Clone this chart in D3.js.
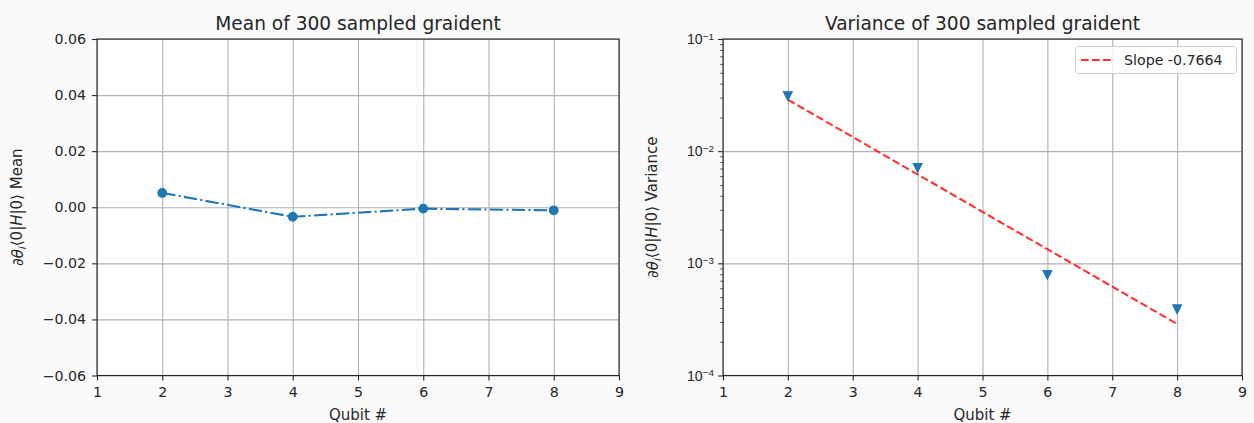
<!DOCTYPE html>
<html>
<head>
<meta charset="utf-8">
<script src="https://cdn.jsdelivr.net/npm/d3@7"></script>
<style>
  body { margin: 0; background: #fafafa; }
  svg { display: block; font-family: "DejaVu Sans", sans-serif; }
</style>
</head>
<body>
<svg id="chart" width="1254" height="423"></svg>
<script>
// data
var qubits = [2, 4, 6, 8];
var meanValues = [0.0051, -0.0034, -0.0005, -0.0011];
var varianceValues = [0.031, 0.0071, 0.00079, 0.00039];
var fitQubits = [2, 8];
var fitValues = [0.0288, 0.000288];
var slopeLabel = "Slope -0.7664";
var xTicks = [1, 2, 3, 4, 5, 6, 7, 8, 9];
var meanTicks = [-0.06, -0.04, -0.02, 0.00, 0.02, 0.04, 0.06];
var logTicks = [1e-4, 1e-3, 1e-2, 1e-1];
var titles = ["Mean of 300 sampled graident", "Variance of 300 sampled graident"];

var svg = d3.select("#chart"),
    blue = "#1f77b4",
    textColor = "#262626",
    tickFont = 14.2,
    labelFont = 15;

var panels = [
  { left: 97, right: 619, top: 39, bottom: 375.5, labelX: 18, name: "Mean" },
  { left: 723, right: 1242, top: 39, bottom: 375.5, labelX: 653, name: "Variance" }
];

function styleAxis(g) {
  g.select(".domain").remove();
  g.selectAll(".tick line").attr("stroke", textColor).attr("stroke-width", 1.1);
  g.selectAll(".tick text").attr("fill", textColor).style("font-size", tickFont + "px")
   .style("font-family", "DejaVu Sans, sans-serif");
}

panels.forEach(function(p, i) {
  var w = p.right - p.left, h = p.bottom - p.top;
  var x = d3.scaleLinear().domain([1, 9]).range([p.left, p.right]);
  var y = i === 0
    ? d3.scaleLinear().domain([-0.06, 0.06]).range([p.bottom, p.top])
    : d3.scaleLog().domain([1e-4, 1e-1]).range([p.bottom, p.top]);

  //axes background
  svg.append("rect").attr("x", p.left).attr("y", p.top).attr("width", w).attr("height", h)
    .attr("fill", "#ffffff");

  //grid
  svg.append("g").attr("transform", "translate(0," + p.bottom + ")")
    .call(d3.axisBottom(x).tickValues(xTicks).tickSize(-h).tickFormat(""))
    .call(function(g) {
      g.select(".domain").remove();
      g.selectAll("line").attr("stroke", "#b0b0b0").attr("stroke-width", 1.1);
    });
  svg.append("g").attr("transform", "translate(" + p.left + ",0)")
    .call(d3.axisLeft(y).tickValues(i === 0 ? meanTicks : logTicks).tickSize(-w).tickFormat(""))
    .call(function(g) {
      g.select(".domain").remove();
      g.selectAll("line").attr("stroke", "#b0b0b0").attr("stroke-width", 1.1);
    });

  //x axis
  svg.append("g").attr("transform", "translate(0," + p.bottom + ")")
    .call(d3.axisBottom(x).tickValues(xTicks).tickSize(4.9).tickPadding(5).tickFormat(d3.format("d")))
    .call(styleAxis)
    .selectAll(".tick text").attr("dy", "0.8em");

  //y axis
  if (i === 0) {
    svg.append("g").attr("transform", "translate(" + p.left + ",0)")
      .call(d3.axisLeft(y).tickValues(meanTicks).tickSize(4.9).tickPadding(6)
        .tickFormat(function(d) { return d3.format(".2f")(d).replace("-", "\u2212"); }))
      .call(styleAxis);
  } else {
    var minor = [];
    logTicks.slice(0, 3).forEach(function(t) {
      for (var k = 2; k <= 9; k++) minor.push(t * k);
    });
    svg.append("g").attr("transform", "translate(" + p.left + ",0)")
      .call(d3.axisLeft(y).tickValues(minor).tickSize(2.8).tickFormat(""))
      .call(styleAxis)
      .selectAll(".tick line").attr("stroke-width", 0.8);
    svg.append("g").attr("transform", "translate(" + p.left + ",0)")
      .call(d3.axisLeft(y).tickValues(logTicks).tickSize(4.9).tickPadding(6).tickFormat(""))
      .call(styleAxis)
      .selectAll(".tick").each(function(d) {
        var t = d3.select(this).append("text")
          .attr("x", -9).attr("dy", "0.32em").attr("text-anchor", "end")
          .attr("fill", textColor).style("font-size", tickFont + "px");
        t.append("tspan").text("10");
        t.append("tspan").attr("dy", "-0.45em").style("font-size", "9.9px")
          .text("\u2212" + Math.round(-Math.log10(d)));
      });
  }

  //spines
  svg.append("rect").attr("x", p.left).attr("y", p.top).attr("width", w).attr("height", h)
    .attr("fill", "none").attr("stroke", textColor).attr("stroke-width", 1.1);

  //data
  if (i === 0) {
    var line = d3.line().x(function(d, j) { return x(qubits[j]); }).y(function(d) { return y(d); });
    svg.append("path").datum(meanValues).attr("d", line)
      .attr("fill", "none").attr("stroke", blue).attr("stroke-width", 2.1)
      .attr("stroke-dasharray", "13.3,3.3,2.1,3.3");
    svg.selectAll(".meanDot").data(meanValues).enter().append("circle")
      .attr("cx", function(d, j) { return x(qubits[j]); })
      .attr("cy", function(d) { return y(d); })
      .attr("r", 4.2).attr("fill", blue).attr("stroke", blue).attr("stroke-width", 1.4);
  } else {
    var fitLine = d3.line().x(function(d, j) { return x(fitQubits[j]); }).y(function(d) { return y(d); });
    svg.append("path").datum(fitValues).attr("d", fitLine)
      .attr("fill", "none").attr("stroke", "#ff0000").attr("stroke-opacity", 0.8)
      .attr("stroke-width", 2.1).attr("stroke-dasharray", "7.7,3.3");
    svg.selectAll(".varDot").data(varianceValues).enter().append("path")
      .attr("d", "M-4.2,-4.2L4.2,-4.2L0,4.2Z")
      .attr("transform", function(d, j) { return "translate(" + x(qubits[j]) + "," + y(d) + ")"; })
      .attr("fill", blue).attr("stroke", blue).attr("stroke-width", 1.4);

    //legend
    var lg = svg.append("g");
    lg.append("rect").attr("x", 1075.5).attr("y", 46.5).attr("width", 161).attr("height", 27)
      .attr("rx", 3).attr("fill", "#ffffff").attr("fill-opacity", 0.8)
      .attr("stroke", "#cccccc").attr("stroke-width", 1);
    lg.append("line").attr("x1", 1081).attr("x2", 1112).attr("y1", 60).attr("y2", 60)
      .attr("stroke", "#ff0000").attr("stroke-opacity", 0.8).attr("stroke-width", 2.1)
      .attr("stroke-dasharray", "7.7,3.3");
    lg.append("text").attr("x", 1124).attr("y", 65).attr("fill", textColor)
      .style("font-size", tickFont + "px").text(slopeLabel);
  }

  //title
  svg.append("text").attr("x", (p.left + p.right) / 2).attr("y", 30)
    .attr("text-anchor", "middle").attr("fill", textColor).style("font-size", "18.6px")
    .text(titles[i]);

  //x label
  svg.append("text").attr("x", (p.left + p.right) / 2).attr("y", 420)
    .attr("text-anchor", "middle").attr("fill", textColor).style("font-size", labelFont + "px")
    .text("Qubit #");

  //y label
  var yl = svg.append("text")
    .attr("transform", "translate(" + p.labelX + "," + ((p.top + p.bottom) / 2) + ") rotate(-90)")
    .attr("text-anchor", "middle").attr("dy", "0.35em").attr("fill", textColor)
    .style("font-size", labelFont + "px");
  yl.append("tspan").text("\u2202");
  yl.append("tspan").style("font-style", "italic").text("\u03b8");
  yl.append("tspan").style("font-style", "italic").style("font-size", "10.4px").attr("dy", "0.25em").text("i");
  yl.append("tspan").attr("dy", "-0.25em").text("\u27e80|");
  yl.append("tspan").style("font-style", "italic").text("H");
  yl.append("tspan").text("|0\u27e9 " + p.name);
});
</script>
</body>
</html>
